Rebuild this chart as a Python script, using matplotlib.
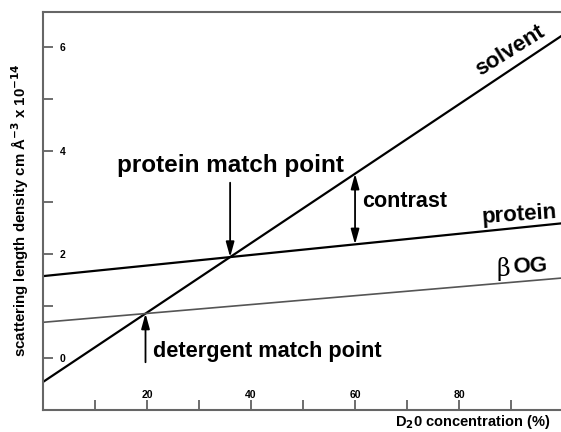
import numpy as np
import matplotlib
matplotlib.use("Agg")
import matplotlib.pyplot as plt
from matplotlib.ticker import MultipleLocator

plt.rcParams['font.family'] = ['Liberation Sans', 'DejaVu Sans']
plt.rcParams['font.weight'] = 'bold'

# D2O concentration (%) and scattering length densities (x 1e-14 cm A^-3)
d2o = np.array([0, 100])
solvent = np.array([-0.46, 6.23])
protein = np.array([1.58, 2.60])
beta_og = np.array([0.69, 1.545])

x_major = [20, 40, 60, 80]
y_major = [0, 2, 4, 6]

# arrow ends
protein_arrow_top = 3.38
detergent_arrow_bottom = -0.08
contrast_x = 60


def crossing(a, b):
    # where two straight lines over d2o meet
    ma = (a[1] - a[0]) / (d2o[1] - d2o[0])
    mb = (b[1] - b[0]) / (d2o[1] - d2o[0])
    x = (b[0] - a[0]) / (ma - mb)
    return x, a[0] + ma * x


fig = plt.figure(figsize=(5.61, 4.32), dpi=100)
ax = fig.add_axes([43 / 561, 22 / 432, 1 - 43 / 561, 398 / 432])

ax.plot(d2o, solvent, color='black', lw=1.6)
ax.plot(d2o, protein, color='black', lw=1.6)
ax.plot(d2o, beta_og, color='#555555', lw=1.2)

ax.set_xlim(0, 99.6)
ax.set_ylim(-1.0, 6.67)

ax.xaxis.set_major_locator(plt.FixedLocator(x_major))
ax.xaxis.set_minor_locator(MultipleLocator(10))
ax.yaxis.set_major_locator(plt.FixedLocator(y_major))
ax.yaxis.set_minor_locator(MultipleLocator(1))
ax.tick_params(which='both', direction='in', length=7, width=1.2, color='#555555')
ax.tick_params(axis='y', which='major', pad=-12, labelsize=7.5)
ax.tick_params(axis='x', which='major', pad=-7, labelsize=7.5)
for lab in ax.get_yticklabels():
    lab.set_horizontalalignment('left')
for lab in ax.get_xticklabels():
    lab.set_verticalalignment('bottom')

for side in ['left', 'bottom', 'top']:
    ax.spines[side].set_color('#666666')
    ax.spines[side].set_linewidth(1.5)
ax.spines['right'].set_visible(False)

arrow = dict(arrowstyle='-|>,head_width=0.25,head_length=0.9', color='black',
             lw=1.3, shrinkA=0, shrinkB=0)

# protein match point
px, py = crossing(solvent, protein)
ax.annotate('', xy=(px, py), xytext=(px, protein_arrow_top), arrowprops=arrow)
ax.text(px, 3.72, 'protein match point', ha='center', va='center', fontsize=17.5)

# detergent match point
dx, dy = crossing(solvent, beta_og)
ax.annotate('', xy=(dx, dy), xytext=(dx, detergent_arrow_bottom), arrowprops=arrow)
ax.text(21.2, 0.12, 'detergent match point', ha='left', va='center', fontsize=15.7)

# contrast
s60 = np.interp(contrast_x, d2o, solvent)
p60 = np.interp(contrast_x, d2o, protein)
ax.annotate('', xy=(contrast_x, s60), xytext=(contrast_x, p60),
            arrowprops=dict(arrow, arrowstyle='<|-|>,head_width=0.25,head_length=0.9'))
ax.text(61.3, 3.01, 'contrast', ha='left', va='center', fontsize=15.5)

ax.text(89.8, 5.92, 'solvent', ha='center', va='center', fontsize=16, rotation=32)
ax.text(91.5, 2.76, 'protein', ha='center', va='center', fontsize=16, rotation=4)
ax.text(88.6, 1.72, 'β', ha='center', va='center', fontsize=17,
        family=['DejaVu Serif'], fontweight='normal')
ax.text(93.7, 1.76, 'OG', ha='center', va='center', fontsize=16, rotation=3)

fig.text(20 / 561, 1 - 210 / 432,
         r'scattering length density cm Å$^{-3}$ x 10$^{-14}$',
         rotation=90, ha='center', va='center', fontsize=10.8)
fig.text(550 / 561, 1 - 422 / 432, r'D$_2$0 concentration (%)',
         ha='right', va='center', fontsize=10.5)

fig.savefig('out.png', dpi=100)
